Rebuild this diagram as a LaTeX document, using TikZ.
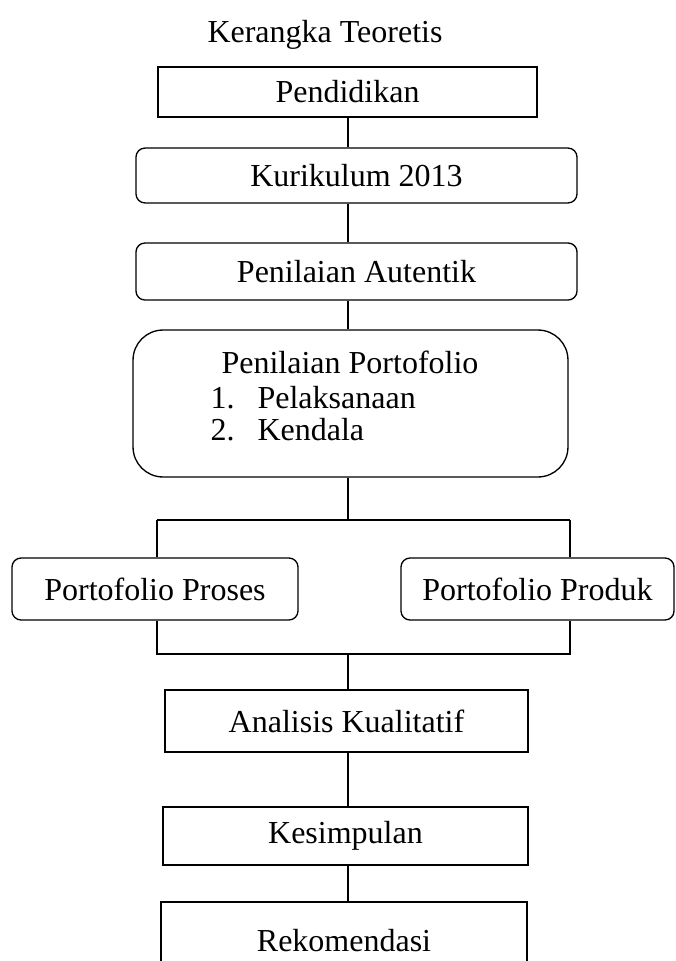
\documentclass[tikz,border=0pt]{standalone}
\usepackage{fontspec}
\setmainfont{Liberation Serif}

\begin{document}
\begin{tikzpicture}[x=0.375pt,y=-0.375pt,line width=0.5pt,
		every node/.style={font=\fontsize{12}{14}\selectfont,inner sep=0pt},
		box/.style={draw,line width=0.5pt},
		roundbox/.style={box,rounded corners=3.4pt}]
				\clip (0,0) rectangle (676,961);
				\coordinate (spine) at (348,0);

				\node[anchor=base] (title) at (325,42) {Kerangka Teoretis};

				\node[box,minimum width=142.1pt,minimum height=18.75pt] (pend) at (347.5,92) {Pendidikan};
				\node[roundbox,minimum width=165.4pt,minimum height=20.6pt] (kur) at (356.5,175.5) {Kurikulum 2013};
				\node[roundbox,minimum width=165.4pt,minimum height=21.4pt] (aut) at (356.5,271.5) {Penilaian Autentik};
				\node[box,rounded corners=11.25pt,minimum width=163.1pt,minimum height=55.1pt] (port) at (350.5,403.5) {};

				\node[anchor=base] (portT) at (350,373) {Penilaian Portofolio};
				\node[anchor=base west] (port1) at (210,408) {\makebox[17.6pt][l]{1.}Pelaksanaan};
				\node[anchor=base west] (port2) at (210,440) {\makebox[17.6pt][l]{2.}Kendala};

				\node[roundbox,minimum width=107.25pt,minimum height=23.25pt] (proses) at (155,589) {Portofolio Proses};
				\node[roundbox,minimum width=102.4pt,minimum height=23.25pt] (produk) at (537.5,589) {Portofolio Produk};

				\node[box,minimum width=136.1pt,minimum height=23.25pt] (anal) at (346.5,721) {Analisis Kualitatif};
				\node[box,minimum width=136.9pt,minimum height=21.75pt] (simp) at (345.5,836) {Kesimpulan};
				\node[box,minimum width=137.25pt,minimum height=29.25pt] (rekom) at (344,941) {Rekomendasi};

				% branch points
				\coordinate (jl) at (157,520);
				\coordinate (jr) at (570,520);
				\coordinate (kl) at (157,654);
				\coordinate (kr) at (570,654);

				\draw (spine |- pend.south) -- (spine |- kur.north);
				\draw (spine |- kur.south) -- (spine |- aut.north);
				\draw (spine |- aut.south) -- (spine |- port.north);
				\draw (spine |- port.south) -- (spine |- jl);
				\draw (jl) -- (jr);
				\draw (jl) -- (jl |- proses.north);
				\draw (jr) -- (jr |- produk.north);
				\draw (jl |- proses.south) -- (kl) -- (kr) -- (jr |- produk.south);
				\draw (spine |- kl) -- (spine |- anal.north);
				\draw (spine |- anal.south) -- (spine |- simp.north);
				\draw (spine |- simp.south) -- (spine |- rekom.north);
			\end{tikzpicture}
\end{document}
